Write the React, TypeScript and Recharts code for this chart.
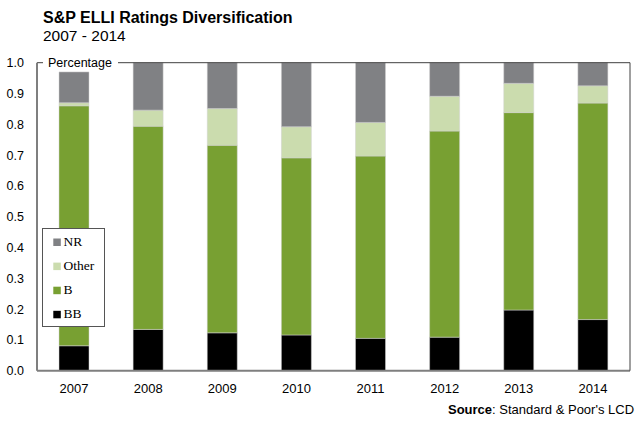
import React from "react";
import { BarChart, Bar, XAxis, YAxis, ReferenceLine } from "recharts";

const years = ["2007", "2008", "2009", "2010", "2011", "2012", "2013", "2014"];
const bb = [0.081, 0.134, 0.123, 0.116, 0.105, 0.109, 0.197, 0.166];
const b = [0.779, 0.66, 0.609, 0.575, 0.592, 0.669, 0.641, 0.703];
const other = [0.01, 0.052, 0.119, 0.101, 0.109, 0.113, 0.095, 0.056];
const nr = [0.1, 0.154, 0.149, 0.208, 0.194, 0.109, 0.067, 0.075];
const yTicks = [0, 0.1, 0.2, 0.3, 0.4, 0.5, 0.6, 0.7, 0.8, 0.9, 1.0];

const series = [
  { key: "BB", values: bb, color: "#000000" },
  { key: "B", values: b, color: "#78a032" },
  { key: "Other", values: other, color: "#cbdcae" },
  { key: "NR", values: nr, color: "#808184" },
];

const data = years.map((y, i) => {
  const row: any = { year: y };
  series.forEach((s) => (row[s.key] = s.values[i]));
  return row;
});

const legendOrder = ["NR", "Other", "B", "BB"];

const LegendBox = () => (
  <svg style={{ position: "absolute", left: 42, top: 228 }} width={64} height={100}>
    <rect x={0.5} y={0.5} width={62} height={98} fill="#fff" stroke="#555" strokeWidth={1} />
    {legendOrder.map((k, i) => {
      const s = series.find((x) => x.key === k)!;
      const base = 18 + i * 24.1;
      return (
        <g key={k}>
          <rect x={11.3} y={base - 7.5} width={7.5} height={7.5} fill={s.color} />
          <text x={21.5} y={base} fontSize={13.5} fontFamily="'Liberation Serif', 'Times New Roman', serif" fill="#000">
            {k}
          </text>
        </g>
      );
    })}
  </svg>
);

const PercentLabel = (props: any) => {
  const vb = props.viewBox || {};
  return (
    <g>
      <rect x={vb.x + 6} y={vb.y - 8} width={75} height={16} fill="#fff" />
      <text x={vb.x + 11} y={vb.y + 4.5} fontSize={12.5} fontFamily="'Liberation Sans', Arial, sans-serif" fill="#000">
        Percentage
      </text>
    </g>
  );
};

export default function App() {
  return (
    <div style={{ position: "absolute", left: 0, top: 0, width: 635, height: 427, background: "#fff", fontFamily: "'Liberation Sans', Arial, sans-serif" }}>
      <div style={{ position: "absolute", left: 43, top: 10, fontSize: 16, fontWeight: "bold", color: "#000", lineHeight: "16px", whiteSpace: "nowrap" }}>
        S&amp;P ELLI Ratings Diversification
      </div>
      <div style={{ position: "absolute", left: 43, top: 27.6, fontSize: 15.5, color: "#000", lineHeight: "16px", whiteSpace: "nowrap" }}>
        2007 - 2014
      </div>
      <BarChart width={635} height={427} data={data} margin={{ top: 62.7, right: 4, bottom: 26.3, left: 0 }} barSize={30}>
        <XAxis
          dataKey="year"
          height={30}
          tickSize={0}
          tickMargin={13}
          axisLine={{ stroke: "#7f7f7f", strokeWidth: 2 }}
          tick={{ fontSize: 13, fill: "#000", fontFamily: "'Liberation Sans', Arial, sans-serif" }}
        />
        <YAxis
          width={37}
          domain={[0, 1]}
          ticks={yTicks}
          interval={0}
          tickSize={0}
          tickMargin={13}
          tickFormatter={(v: number) => v.toFixed(1)}
          axisLine={{ stroke: "#7f7f7f", strokeWidth: 2 }}
          tick={{ fontSize: 12.5, fill: "#000", fontFamily: "'Liberation Sans', Arial, sans-serif" }}
        />
        <YAxis
          yAxisId="r"
          orientation="right"
          width={1}
          domain={[0, 1]}
          tick={false}
          tickLine={false}
          axisLine={{ stroke: "#404040", strokeWidth: 1 }}
        />
        {series.map((s) => (
          <Bar key={s.key} dataKey={s.key} stackId="a" fill={s.color} stroke="#d0d0d0" strokeWidth={0.5} isAnimationActive={false} />
        ))}
        <ReferenceLine y={1} stroke="#404040" strokeWidth={1} label={<PercentLabel />} ifOverflow="visible" />
      </BarChart>
      <LegendBox />
      <div style={{ position: "absolute", left: 448, top: 403, fontSize: 13, color: "#000", whiteSpace: "nowrap", lineHeight: "14px" }}>
        <b>Source</b>: Standard &amp; Poor's LCD
      </div>
    </div>
  );
}
